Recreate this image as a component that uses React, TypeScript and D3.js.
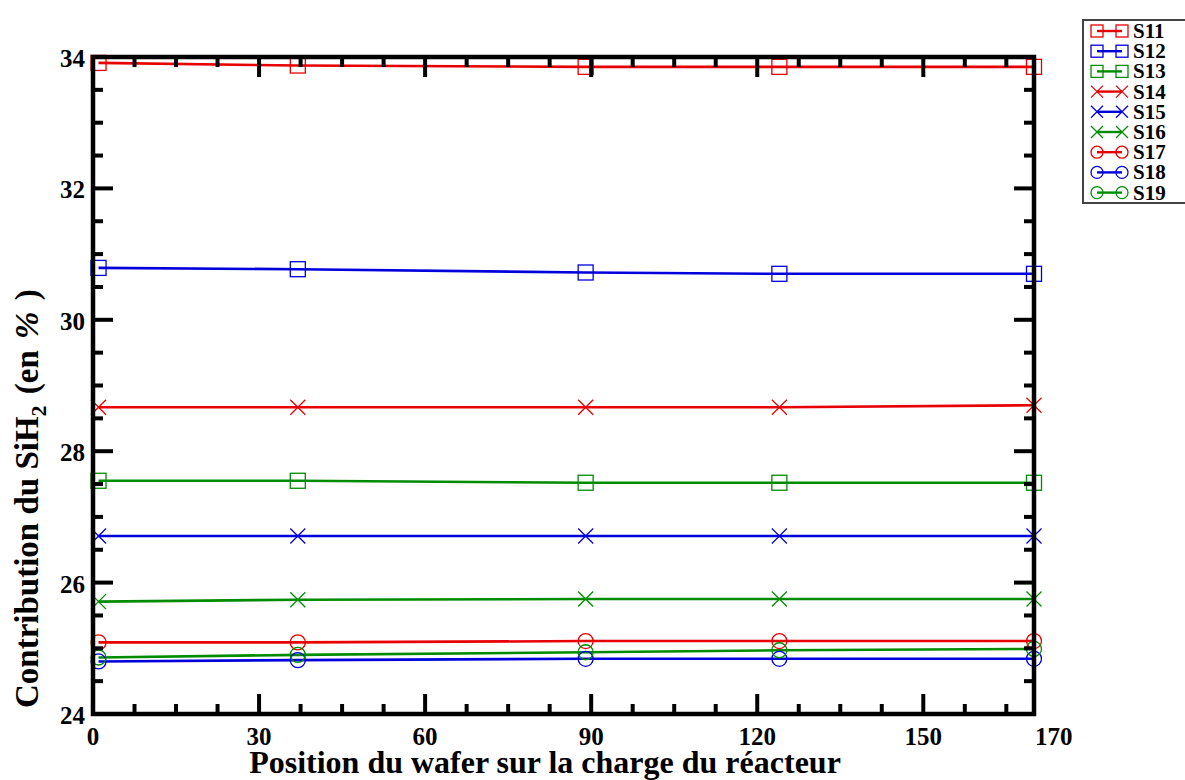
import React from "react";
import * as d3 from "d3";

const positions = [1, 37, 89, 124, 170];
const S11 = [33.91, 33.87, 33.85, 33.85, 33.85];
const S12 = [30.79, 30.77, 30.72, 30.7, 30.7];
const S13 = [27.55, 27.55, 27.52, 27.52, 27.52];
const S14 = [28.67, 28.67, 28.67, 28.67, 28.7];
const S15 = [26.71, 26.71, 26.71, 26.71, 26.71];
const S16 = [25.71, 25.74, 25.75, 25.75, 25.75];
const S17 = [25.09, 25.09, 25.11, 25.11, 25.11];
const S18 = [24.8, 24.82, 24.84, 24.84, 24.84];
const S19 = [24.86, 24.9, 24.94, 24.97, 24.99];

const seriesNames = ["S11", "S12", "S13", "S14", "S15", "S16", "S17", "S18", "S19"];
const seriesValues = [S11, S12, S13, S14, S15, S16, S17, S18, S19];
const seriesColors = ["red", "blue", "green", "red", "blue", "green", "red", "blue", "green"];
const seriesSymbols = ["square", "square", "square", "cross", "cross", "cross", "circle", "circle", "circle"];

const xMajorTicks = [0, 30, 60, 90, 120, 150];
const xEndLabel = 170;
const yMajorTicks = [24, 26, 28, 30, 32, 34];

const COLORS: Record<string, string> = { red: "#e80000", blue: "#0000dd", green: "#008b00" };

const L = 93, R = 1034, T = 57, B = 714;
const FONT = "'Liberation Serif', 'Times New Roman', serif";

function Marker({ kind, x, y, color, s = 7.5 }: { kind: string; x: number; y: number; color: string; s?: number }) {
  if (kind === "square")
    return <rect x={x - s} y={y - s} width={2 * s} height={2 * s} fill="none" stroke={color} strokeWidth={1.3} />;
  if (kind === "circle") return <circle cx={x} cy={y} r={s} fill="none" stroke={color} strokeWidth={1.3} />;
  return (
    <g stroke={color} strokeWidth={1.3}>
      <line x1={x - s} y1={y - s} x2={x + s} y2={y + s} />
      <line x1={x - s} y1={y + s} x2={x + s} y2={y - s} />
    </g>
  );
}

export default function App() {
  const x = d3.scaleLinear().domain([0, 170]).range([L, R]);
  const y = d3.scaleLinear().domain([24, 34]).range([B, T]);
  const xMinor = d3.range(7.5, 170, 7.5).filter((v) => v % 30 !== 0);
  const yMinor = d3.range(24.5, 34, 0.5).filter((v) => v % 2 !== 0);
  const line = d3
    .line<[number, number]>()
    .x((d) => x(d[0]))
    .y((d) => y(d[1]));

  const legendTop = 31;
  const legendStep = 20.2;

  return (
    <svg
      width={1185}
      height={780}
      style={{ position: "absolute", left: 0, top: 0, background: "#fff" }}
      fontFamily={FONT}
    >
      <rect x={0} y={0} width={1185} height={780} fill="#fff" />
      {seriesValues.map((vals, i) => (
        <path
          key={"l" + i}
          d={line(positions.map((p, j) => [p, vals[j]]) as [number, number][]) || ""}
          fill="none"
          stroke={COLORS[seriesColors[i]]}
          strokeWidth={2.6}
        />
      ))}
      {seriesValues.map((vals, i) =>
        positions.map((p, j) => (
          <Marker key={"m" + i + "-" + j} kind={seriesSymbols[i]} x={x(p)} y={y(vals[j])} color={COLORS[seriesColors[i]]} />
        ))
      )}
      <g stroke="#000" strokeWidth={4}>
        {xMajorTicks.map((t) => (
          <g key={"xM" + t}>
            <line x1={x(t)} x2={x(t)} y1={B} y2={B - 20} />
            <line x1={x(t)} x2={x(t)} y1={T} y2={T + 20} />
          </g>
        ))}
        {xMinor.map((t) => (
          <g key={"xm" + t}>
            <line x1={x(t)} x2={x(t)} y1={B} y2={B - 10} />
            <line x1={x(t)} x2={x(t)} y1={T} y2={T + 10} />
          </g>
        ))}
        {yMajorTicks.map((t) => (
          <g key={"yM" + t}>
            <line x1={L} x2={L + 20} y1={y(t)} y2={y(t)} />
            <line x1={R} x2={R - 20} y1={y(t)} y2={y(t)} />
          </g>
        ))}
        {yMinor.map((t) => (
          <g key={"ym" + t}>
            <line x1={L} x2={L + 10} y1={y(t)} y2={y(t)} />
            <line x1={R} x2={R - 10} y1={y(t)} y2={y(t)} />
          </g>
        ))}
      </g>
      <rect x={L} y={T} width={R - L} height={B - T} fill="none" stroke="#000" strokeWidth={4.5} />
      <g fontSize={25} fontWeight="bold" fill="#000">
        {xMajorTicks.map((t) => (
          <text key={"xl" + t} x={x(t)} y={745} textAnchor="middle">
            {t}
          </text>
        ))}
        <text x={x(xEndLabel) + 1} y={745} textAnchor="start">
          {xEndLabel}
        </text>
        {yMajorTicks.map((t) => (
          <text key={"yl" + t} x={85} y={y(t) + 10} textAnchor="end">
            {t}
          </text>
        ))}
      </g>
      <text x={545} y={773} textAnchor="middle" fontSize={32} fontWeight="bold">
        Position du wafer sur la charge du réacteur
      </text>
      <text transform="translate(38,708) rotate(-90)" textAnchor="start" fontSize={33} fontWeight="bold">
        Contribution du SiH
        <tspan fontSize={22} dy={8}>2</tspan>
        <tspan dy={-8} dx={3}> (en </tspan>
        <tspan fontStyle="italic" dx={3}>%</tspan>
        <tspan dx={3}> )</tspan>
      </text>
      <rect x={1083} y={20} width={140} height={183} fill="#fff" stroke="#444" strokeWidth={2} />
      {seriesNames.map((name, i) => {
        const cy = legendTop + i * legendStep;
        const c = COLORS[seriesColors[i]];
        return (
          <g key={"lg" + i}>
            <line x1={1097} x2={1122} y1={cy} y2={cy} stroke={c} strokeWidth={2.4} />
            <Marker kind={seriesSymbols[i]} x={1097} y={cy} color={c} s={6} />
            <Marker kind={seriesSymbols[i]} x={1122} y={cy} color={c} s={6} />
            <text x={1133} y={cy + 7} fontSize={21} fontWeight="bold">
              {name}
            </text>
          </g>
        );
      })}
    </svg>
  );
}
